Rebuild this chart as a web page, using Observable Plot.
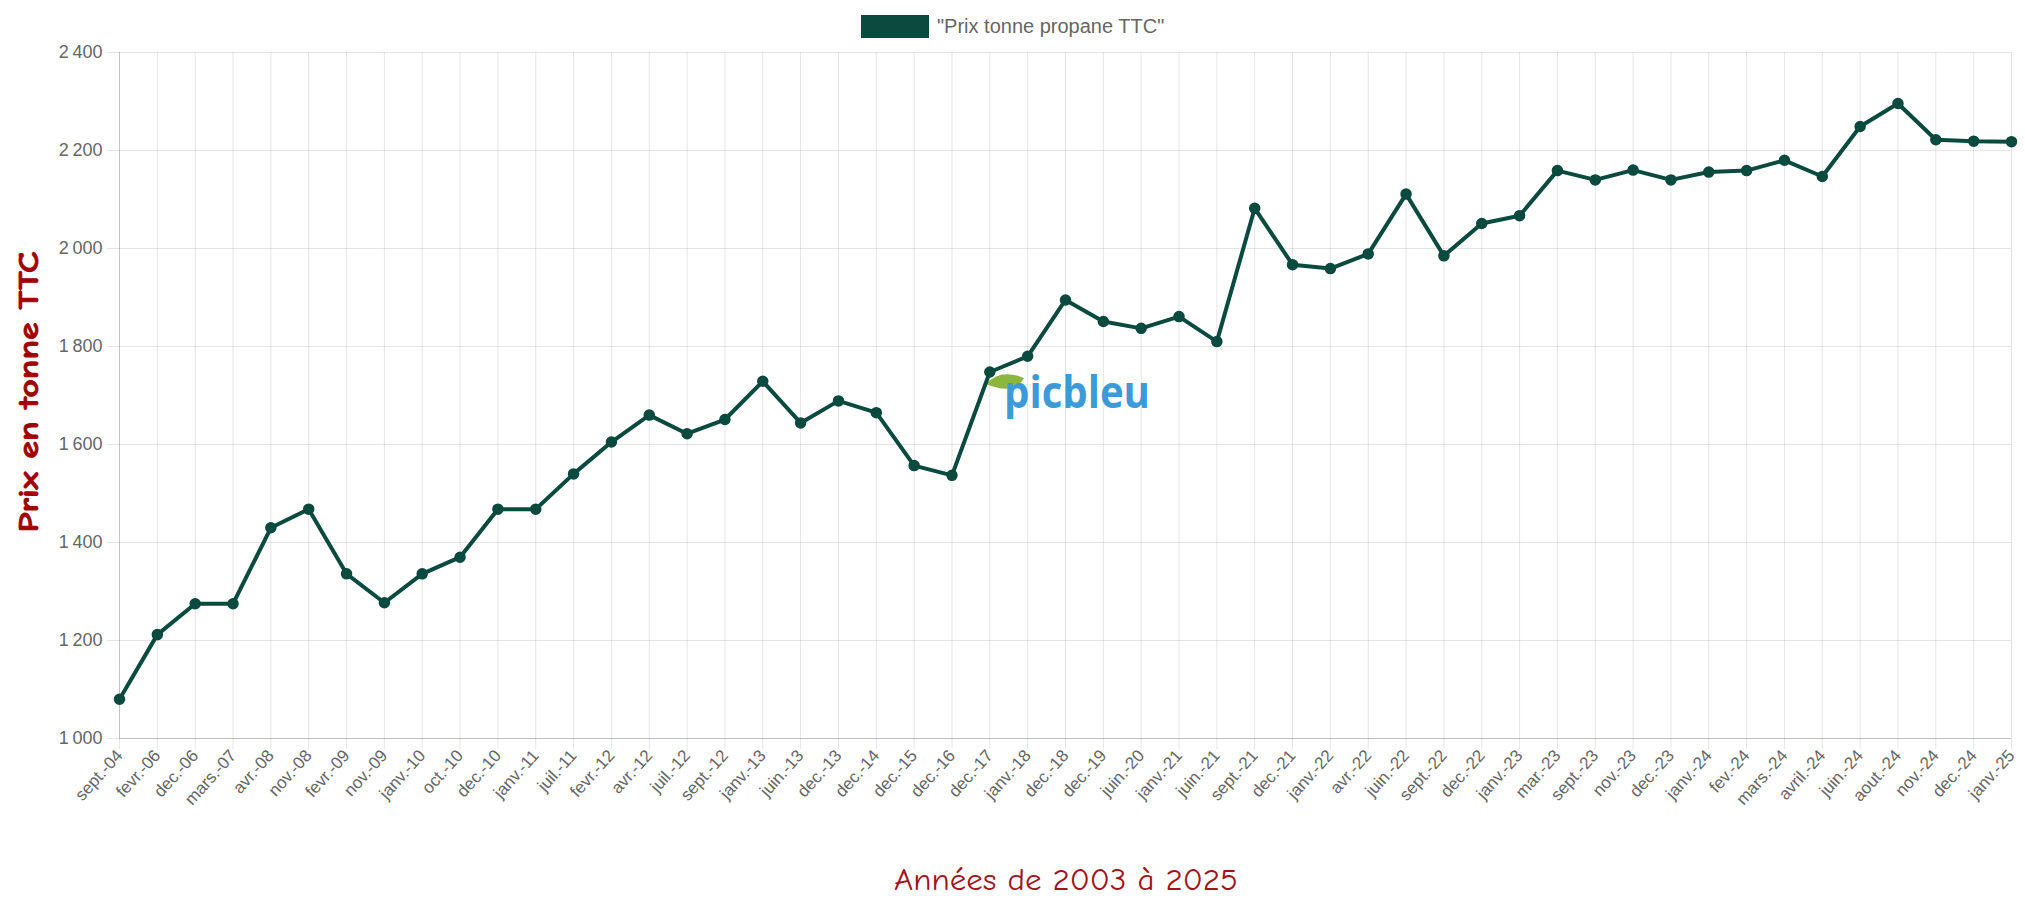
<!DOCTYPE html>
<html>
<head>
<meta charset="utf-8">
<script src="https://cdn.jsdelivr.net/npm/d3@7"></script>
<script src="https://cdn.jsdelivr.net/npm/@observablehq/plot@0.6"></script>
<style>
  html, body { margin: 0; padding: 0; background: #fff; }
  #chart svg { display: block; overflow: visible; }
</style>
</head>
<body>
<div id="chart"></div>
<script>
const labels = [
  "sept.-04","fevr.-06","dec.-06","mars.-07","avr.-08","nov.-08","fevr.-09","nov.-09",
  "janv.-10","oct.-10","dec.-10","janv.-11","juil.-11","fevr.-12","avr.-12","juil.-12",
  "sept.-12","janv.-13","juin.-13","dec.-13","dec.-14","dec.-15","dec.-16","dec.-17",
  "janv.-18","dec.-18","dec.-19","juin.-20","janv.-21","juin.-21","sept.-21","dec.-21",
  "janv.-22","avr.-22","juin.-22","sept.-22","dec.-22","janv.-23","mar.-23","sept.-23",
  "nov.-23","dec.-23","janv.-24","fev.-24","mars.-24","avril.-24","juin.-24","aout.-24",
  "nov.-24","dec.-24","janv.-25"
];
const prices = [
  1080, 1212, 1275, 1275, 1430, 1468, 1336, 1277,
  1336, 1370, 1468, 1468, 1540, 1605, 1660, 1622,
  1651, 1729, 1644, 1689, 1665, 1557, 1537, 1748,
  1780, 1895, 1851, 1837, 1861, 1810, 2082, 1967,
  1959, 1989, 2111, 1985, 2051, 2067, 2159, 2140,
  2160, 2140, 2156, 2159, 2180, 2147, 2249, 2296,
  2222, 2219, 2218
];
const yTicks = [1000, 1200, 1400, 1600, 1800, 2000, 2200, 2400];
const seriesName = "\"Prix tonne propane TTC\"";
const yTitle = "Prix en tonne TTC";
const xTitle = "Années de 2003 à 2025";

const lineColor = "#0a4a3f";
const data = labels.map((label, i) => ({label, price: prices[i]}));
const frFormat = d3.formatLocale({decimal: ",", thousands: "\u202f", grouping: [3], currency: ["", " €"]}).format(",");

const chart = Plot.plot({
  width: 2025,
  height: 898,
  marginTop: 52,
  marginBottom: 160,
  marginLeft: 119,
  marginRight: 14,
  style: {fontFamily: "'Liberation Sans', Arial, sans-serif", color: "#666", background: "#fff"},
  x: {type: "point", domain: labels, padding: 0, label: null},
  y: {domain: [1000, 2400], label: null},
  marks: [
    Plot.gridX({stroke: "#000", strokeOpacity: 0.1, strokeWidth: 1}),
    Plot.gridY(yTicks, {stroke: "#000", strokeOpacity: 0.1, strokeWidth: 1}),
    Plot.ruleY([1000], {stroke: "#000", strokeOpacity: 0.16}),
    Plot.ruleX([labels[0]], {stroke: "#000", strokeOpacity: 0.14}),
    Plot.axisY(yTicks, {tickSize: 12, tickPadding: 5, tickFormat: frFormat, stroke: "#000", strokeOpacity: 0.1, fill: "#666", fontSize: 18, label: null}),
    Plot.axisX({tickSize: 11, tickPadding: 3, tickRotate: -48, stroke: "#000", strokeOpacity: 0.1, fill: "#666", fontSize: 17, label: null}),
    Plot.line(data, {x: "label", y: "price", stroke: lineColor, strokeWidth: 4, strokeLinejoin: "round"}),
    Plot.dot(data, {x: "label", y: "price", r: 5, fill: lineColor, stroke: lineColor})
  ]
});

document.getElementById("chart").appendChild(chart);
const svg = d3.select(chart);

// watermark logo (behind the line)
const logo = svg.insert("g", "g[aria-label=line]");
logo.append("path")
  .attr("d", "M986,384 Q1000,368 1024,378 Q1014,396 986,384 Z")
  .attr("fill", "#8db63c");
logo.append("text")
  .attr("x", 1004).attr("y", 408)
  .attr("text-anchor", "start")
  .attr("font-family", "'Open Sans', Lato, sans-serif")
  .attr("font-weight", "bold")
  .attr("font-size", 44)
  .attr("fill", "#3c9ad9")
  .attr("textLength", 146)
  .attr("lengthAdjust", "spacingAndGlyphs")
  .text("picbleu");

// legend
svg.append("rect")
  .attr("x", 861).attr("y", 15).attr("width", 68).attr("height", 23)
  .attr("fill", lineColor);
svg.append("text")
  .attr("x", 937).attr("y", 33)
  .attr("text-anchor", "start")
  .attr("font-family", "'Liberation Sans', Arial, sans-serif")
  .attr("font-size", 20)
  .attr("fill", "#666")
  .text(seriesName);

// axis titles
svg.append("text")
  .attr("transform", "translate(28,392) rotate(-90)")
  .attr("text-anchor", "middle")
  .attr("dominant-baseline", "central")
  .attr("font-family", "'Comic Sans MS', 'Comic Neue', cursive")
  .attr("font-weight", "bold")
  .attr("font-size", 29)
  .attr("fill", "#a00000")
  .attr("stroke", "#a00000")
  .attr("stroke-width", 0.8)
  .attr("textLength", 281)
  .attr("lengthAdjust", "spacingAndGlyphs")
  .text(yTitle);
svg.append("text")
  .attr("x", 1066).attr("y", 890)
  .attr("text-anchor", "middle")
  .attr("font-family", "'Comic Sans MS', 'Comic Neue', cursive")
  .attr("font-size", 30)
  .attr("fill", "#a3131a")
  .attr("textLength", 344)
  .attr("lengthAdjust", "spacingAndGlyphs")
  .text(xTitle);
</script>
</body>
</html>
